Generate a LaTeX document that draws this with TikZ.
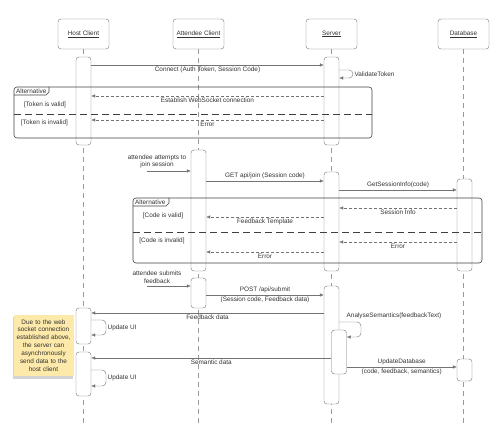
\documentclass[tikz,border=0pt]{standalone}
\usepackage{fontspec}
\setmainfont{Liberation Sans}
\usetikzlibrary{positioning}
\usetikzlibrary{arrows.meta}
\usetikzlibrary{shadows}
\colorlet{ink}{black!80}
\colorlet{wire}{black!55}
\definecolor{notefill}{HTML}{FDE9A9}

\tikzset{
  head/.style={draw=black!55, rounded corners=3pt, minimum width=51pt, minimum height=30pt, text=ink},
  life/.style={draw=black!40, dash pattern=on 5pt off 4pt},
  act/.style={draw=black!55, fill=white, rounded corners=3pt, minimum width=15pt, inner sep=0pt},
  msg/.style={draw=wire, -{Latex[length=4pt,width=3.5pt]}},
  reply/.style={msg, dash pattern=on 3pt off 2pt},
  lbl/.style={text=ink, inner sep=1.5pt},
  frame/.style={draw=black!75, rounded corners=3pt, line width=0.6pt},
  split/.style={draw=black!75, line width=0.8pt, dash pattern=on 7pt off 4pt},
  note/.style={fill=notefill, text width=58pt, align=center, minimum height=61pt, inner sep=1pt, text=ink,
    drop shadow={shadow xshift=-1pt, shadow yshift=-2.5pt, opacity=.35}},
}

\begin{document}
\begin{tikzpicture}[x=1pt, y=-1pt, font=\fontsize{6.4}{7.6}\selectfont]
        \useasboundingbox (0,0) rectangle (498,430);
        % lifelines
        \node [head] (host) at (83.5,34) {\underline{Host Client}};
        \node [head] (att) at (198.5,34) {\underline{Attendee Client}};
        \node [head] (srv) at (331.5,34) {\underline{Server}};
        \node [head] (db) at (463.5,34) {\underline{Database}};
        \coordinate (hostEnd) at (83.5,425);
        \coordinate (attEnd) at (198.5,425);
        \coordinate (srvEnd) at (331.5,425);
        \coordinate (dbEnd) at (463.5,425);
        \draw [life] (host) -- (hostEnd);
        \draw [life] (att) -- (attEnd);
        \draw [life] (srv) -- (srvEnd);
        \draw [life] (db) -- (dbEnd);

        % activations
        \node [act, minimum height=88pt] (hostA1) at (83.5,101) {};
        \node [act, minimum height=36pt] (hostA2) at (83.5,326) {};
        \node [act, minimum height=44pt] (hostA3) at (83.5,374) {};
        \node [act, minimum height=121pt] (attA1) at (198.5,210.5) {};
        \node [act, minimum height=30pt] (attA2) at (198.5,293) {};
        \node [act, minimum height=88pt] (srvA1) at (331.5,101) {};
        \node [act, minimum height=99pt] (srvA2) at (331.5,221.5) {};
        \node [act, minimum height=118pt] (srvA3) at (331.5,345) {};
        \node [act, minimum height=44pt] (srvA4) at (339,352) {};
        \node [act, minimum height=92pt] (dbA1) at (464.5,225) {};
        \node [act, minimum height=22pt] (dbA2) at (464.5,370) {};

        % first alternative
        \draw [frame] (14,87) rectangle (372,138);
        \draw [frame, rounded corners=0pt] (14,95) -- (46,95) -- (49,92) -- (49,87);
        \node [lbl, anchor=west, inner sep=1pt] (alt1) at (15,91) {Alternative};
        \draw [split] (14,114) -- (372,114);
        \node [lbl] (tokOk) at (45,105) {[Token is valid]};
        \node [lbl] (tokBad) at (44.5,123) {[Token is invalid]};

        % second alternative
        \draw [frame] (133,198) rectangle (482,263);
        \draw [frame, rounded corners=0pt] (133,206) -- (166,206) -- (169,203) -- (169,198);
        \node [lbl, anchor=west, inner sep=1pt] (alt2) at (134,202) {Alternative};
        \draw [split] (133,232) -- (482,232);
        \node [lbl] (codeOk) at (163,216) {[Code is valid]};
        \node [lbl] (codeBad) at (162,241) {[Code is invalid]};

        % connecting
        \draw [msg] (hostA1.east |- 0,65) -- node [lbl, below] {Connect (Auth Token, Session Code)} (srvA1.west |- 0,65);
        \draw [msg, rounded corners=4pt] (srvA1.east |- 0,70) -- (353,70) -- node [lbl, right] {ValidateToken} (353,78) -- (srvA1.east |- 0,78);
        \draw [reply] (srvA1.west |- 0,96) -- node [lbl, below] {Establish WebSocket connection} (hostA1.east |- 0,96);
        \draw [reply] (srvA1.west |- 0,120) -- node [lbl, below] {Error} (hostA1.east |- 0,120);

        % joining
        \coordinate (joinStart) at (147,171);
        \node [lbl, align=center] (joinTxt) at (157,161.5) {attendee attempts to\\join session};
        \draw [msg] (joinStart) -- (attA1.west |- joinStart);
        \draw [msg] (attA1.east |- 0,181) -- node [lbl, above] {GET api/join (Session code)} (srvA2.west |- 0,181);
        \draw [msg] (srvA2.east |- 0,190) -- node [lbl, above] {GetSessionInfo(code)} (dbA1.west |- 0,190);
        \draw [reply] (dbA1.west |- 0,208) -- node [lbl, below] {Session Info} (srvA2.east |- 0,208);
        \draw [reply] (srvA2.west |- 0,217) -- node [lbl, below] {Feedback Template} (attA1.east |- 0,217);
        \draw [reply] (dbA1.west |- 0,242) -- node [lbl, below] {Error} (srvA2.east |- 0,242);
        \draw [reply] (srvA2.west |- 0,252) -- node [lbl, below] {Error} (attA1.east |- 0,252);

        % submitting
        \coordinate (submitStart) at (147,286);
        \node [lbl, align=center] (submitTxt) at (157,277.5) {attendee submits\\feedback};
        \draw [msg] (submitStart) -- (attA2.west |- submitStart);
        \draw [msg] (attA2.east |- 0,295) -- node [lbl, above] {POST /api/submit} node [lbl, below] {(Session code, Feedback data)} (srvA3.west |- 0,295);
        \draw [msg] (srvA3.west |- 0,313) -- node [lbl, below] {Feedback data} (hostA2.east |- 0,313);
        \draw [msg, rounded corners=4pt] (hostA2.east |- 0,320) -- (106,320) -- node [lbl, right] {Update UI} (106,335) -- (hostA2.east |- 0,335);
        \draw [msg, rounded corners=4pt] (srvA3.east |- 0,322) -- (361,322) -- (361,337) -- (srvA4.east |- 0,337);
        \node [lbl] (analyse) at (394,316) {AnalyseSemantics(feedbackText)};
        \draw [msg] (srvA4.west |- 0,358) -- node [lbl, below] {Semantic data} (hostA3.east |- 0,358);
        \draw [msg, rounded corners=4pt] (hostA3.east |- 0,370) -- (106,370) -- node [lbl, right] {Update UI} (106,386) -- (hostA3.east |- 0,386);
        \draw [msg] (srvA4.east |- 0,367) -- node [lbl, above] {UpdateDatabase} node [lbl, below] {(code, feedback, semantics)} (dbA2.west |- 0,367);

        \node [note, font=\fontsize{6.4}{7.9}\selectfont] (async) at (43.5,345.5) {Due to the web\\socket connection\\established above,\\the server can\\asynchronously\\send data to the\\host client};
    \end{tikzpicture}
\end{document}
